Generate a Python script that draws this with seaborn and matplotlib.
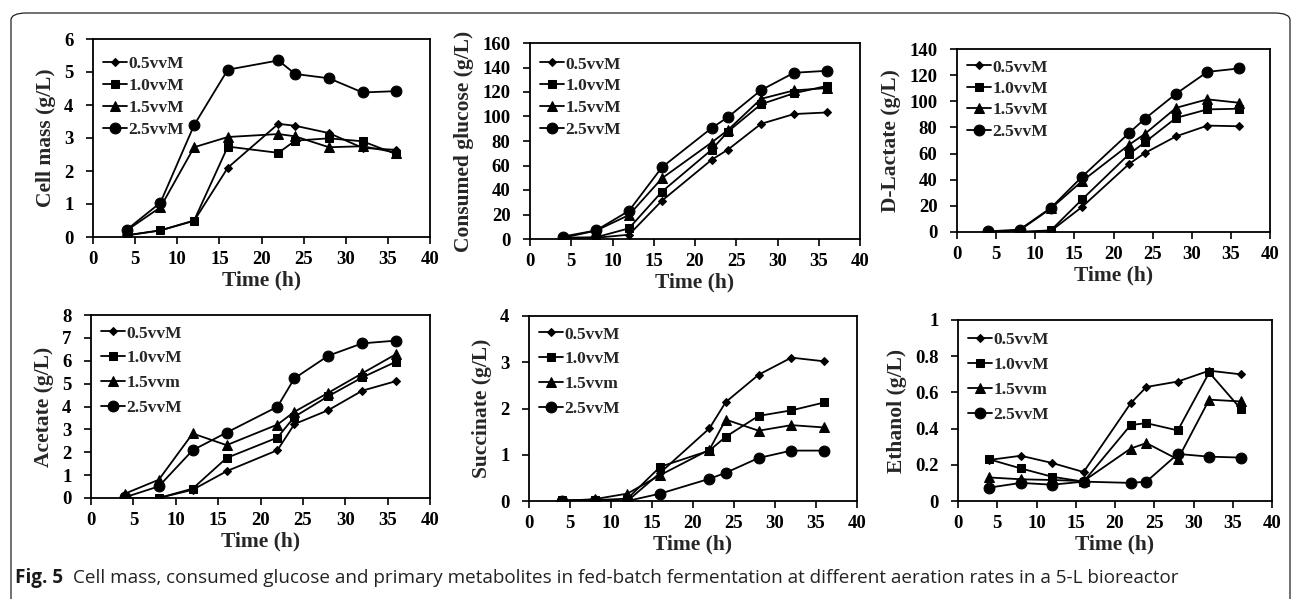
import matplotlib
matplotlib.use('Agg')
import matplotlib.pyplot as plt
import seaborn as sns
from matplotlib.patches import FancyBboxPatch
from matplotlib.ticker import MultipleLocator, FormatStrFormatter

# sampling times (h)
time_h = [4, 8, 12, 16, 22, 24, 28, 32, 36]

# Cell mass (g/L)
cell_05 = [0.05, 0.20, 0.49, 2.10, 3.43, 3.37, 3.15, 2.70, 2.64]
cell_10 = [0.05, 0.20, 0.50, 2.74, 2.55, 2.92, 2.99, 2.90, 2.51]
cell_15 = [0.20, 0.90, 2.72, 3.03, 3.12, 3.05, 2.72, 2.75, 2.56]
cell_25 = [0.22, 1.04, 3.39, 5.07, 5.35, 4.94, 4.81, 4.38, 4.42]

# Consumed glucose (g/L)
glucose_05 = [1.0, 1.0, 3.5, 31.3, 64.6, 73.0, 94.0, 102.0, 103.3]
glucose_10 = [1.0, 1.4, 8.7, 38.7, 72.8, 87.7, 110.0, 119.0, 125.0]
glucose_15 = [1.0, 6.8, 19.6, 49.6, 78.7, 89.0, 114.4, 121.3, 123.2]
glucose_25 = [2.0, 7.0, 23.0, 58.6, 90.5, 99.5, 121.5, 135.7, 137.3]

# D-Lactate (g/L)
lactate_05 = [0.0, 0.0, 0.8, 19.3, 52.1, 60.4, 73.2, 81.4, 80.9]
lactate_10 = [0.0, 0.0, 1.3, 25.0, 59.6, 68.6, 87.3, 93.8, 94.3]
lactate_15 = [0.0, 1.3, 18.0, 39.0, 66.8, 75.0, 95.0, 101.5, 98.9]
lactate_25 = [0.5, 1.8, 18.5, 42.4, 75.8, 86.6, 105.8, 122.5, 125.1]

# Acetate (g/L)
acetate_05 = [0.0, 0.0, 0.36, 1.17, 2.09, 3.23, 3.84, 4.69, 5.11]
acetate_10 = [0.0, 0.0, 0.41, 1.75, 2.64, 3.55, 4.45, 5.27, 5.96]
acetate_15 = [0.19, 0.80, 2.82, 2.31, 3.21, 3.77, 4.60, 5.45, 6.29]
acetate_25 = [0.03, 0.51, 2.09, 2.86, 3.99, 5.23, 6.22, 6.76, 6.88]

# Succinate (g/L)
succinate_05 = [0.0, 0.02, 0.0, 0.61, 1.57, 2.14, 2.73, 3.10, 3.02]
succinate_10 = [0.02, 0.02, 0.05, 0.74, 1.09, 1.39, 1.84, 1.96, 2.13]
succinate_15 = [0.0, 0.04, 0.16, 0.56, 1.11, 1.76, 1.52, 1.64, 1.59]
succinate_25 = [0.0, 0.0, 0.0, 0.16, 0.48, 0.61, 0.93, 1.09, 1.09]

# Ethanol (g/L)
ethanol_05 = [0.227, 0.25, 0.21, 0.16, 0.54, 0.63, 0.66, 0.72, 0.70]
ethanol_10 = [0.23, 0.18, 0.134, 0.107, 0.42, 0.43, 0.39, 0.71, 0.51]
ethanol_15 = [0.13, 0.12, 0.116, 0.11, 0.29, 0.32, 0.23, 0.56, 0.55]
ethanol_25 = [0.074, 0.10, 0.09, 0.107, 0.10, 0.107, 0.26, 0.245, 0.24]

labels_top = ['0.5vvM', '1.0vvM', '1.5vvM', '2.5vvM']
labels_bottom = ['0.5vvM', '1.0vvM', '1.5vvm', '2.5vvM']
markers = ['D', 's', '^', 'o']
marker_sizes = [4.5, 5.5, 6.5, 7.8]

W, H = 1293, 599

sns.set_style('ticks')
plt.rcParams['font.family'] = ['Liberation Serif', 'DejaVu Serif']
plt.rcParams['font.weight'] = 'bold'
plt.rcParams['axes.labelweight'] = 'bold'

fig = plt.figure(figsize=(W / 100, H / 100), dpi=100)

# outer rounded frame
frame = FancyBboxPatch((11 / W, -0.1), 1279 / W, 1 - 13 / H + 0.1,
                       boxstyle='round,pad=0,rounding_size=0.012',
                       transform=fig.transFigure, fill=False,
                       edgecolor='#222222', linewidth=0.9)
fig.patches.append(frame)


def px_rect(left, top, right, bottom):
    return [left / W, 1 - bottom / H, (right - left) / W, (bottom - top) / H]


panels = [
    (px_rect(93, 39, 430, 237), [cell_05, cell_10, cell_15, cell_25],
     'Cell mass (g/L)', 6, 1, labels_top, '%d', 0.33, 0.965),
    (px_rect(530, 43, 860, 239), [glucose_05, glucose_10, glucose_15, glucose_25],
     'Consumed glucose (g/L)', 160, 20, labels_top, '%d', 0.33, 0.985),
    (px_rect(957, 49, 1270, 232), [lactate_05, lactate_10, lactate_15, lactate_25],
     'D-Lactate (g/L)', 140, 20, labels_top, '%d', 0.3, 1.0),
    (px_rect(91, 315, 430, 498), [acetate_05, acetate_10, acetate_15, acetate_25],
     'Acetate (g/L)', 8, 1, labels_bottom, '%d', 0.5, 1.0),
    (px_rect(529, 316, 857, 501), [succinate_05, succinate_10, succinate_15, succinate_25],
     'Succinate (g/L)', 4, 1, labels_bottom, '%d', 0.5, 1.0),
    (px_rect(958, 320, 1272, 501), [ethanol_05, ethanol_10, ethanol_15, ethanol_25],
     'Ethanol (g/L)', 1, 0.2, labels_bottom, '%g', 0.5, 0.99),
]

for rect, series, ylabel, ymax, ystep, labels, fmt, lspace, ytop in panels:
    ax = fig.add_axes(rect)
    for vals, lab, mk, ms in zip(series, labels, markers, marker_sizes):
        sns.lineplot(x=time_h, y=vals, ax=ax, color='black', linewidth=1.3,
                     marker=mk, markersize=ms, markeredgecolor='black',
                     markerfacecolor='black', label=lab)
    ax.set_xlim(0, 40)
    ax.set_ylim(0, ymax)
    ax.xaxis.set_major_locator(MultipleLocator(5))
    ax.yaxis.set_major_locator(MultipleLocator(ystep))
    ax.yaxis.set_major_formatter(FormatStrFormatter(fmt))
    ax.tick_params(axis='both', direction='out', length=5, width=1.2,
                   colors='black', labelsize=13.5)
    ax.tick_params(axis='x', pad=5)
    ax.tick_params(axis='y', pad=9)
    for s in ax.spines.values():
        s.set_color('black')
        s.set_linewidth(1.3)
    ax.set_xlabel('Time (h)', fontsize=15.5, fontweight='bold', labelpad=2)
    ax.set_ylabel(ylabel, fontsize=15.5, fontweight='bold', labelpad=6)
    ax.legend(loc='upper left', bbox_to_anchor=(0, ytop), frameon=False,
              handlelength=1.35, handletextpad=0.1, labelspacing=lspace,
              borderaxespad=0.3, borderpad=0.3,
              prop={'weight': 'bold', 'size': 12.5})
    fig.canvas.draw()
    plt.setp(ax.get_xticklabels() + ax.get_yticklabels(), fontweight='bold')

# caption
cap_y = 1 - 583 / H
t1 = fig.text(15 / W, cap_y, 'Fig. 5', fontsize=13.6, fontweight='bold',
              family=['Open Sans', 'DejaVu Sans'], color='#1a1a1a', va='baseline')
fig.canvas.draw()
bb = t1.get_window_extent()
fig.text((bb.x1 + 10) / W, cap_y,
         'Cell mass, consumed glucose and primary metabolites in fed-batch '
         'fermentation at different aeration rates in a 5-L bioreactor',
         fontsize=13.6, fontweight='normal', family=['Open Sans', 'DejaVu Sans'],
         color='#222222', va='baseline')

fig.savefig('out.png', dpi=100)
